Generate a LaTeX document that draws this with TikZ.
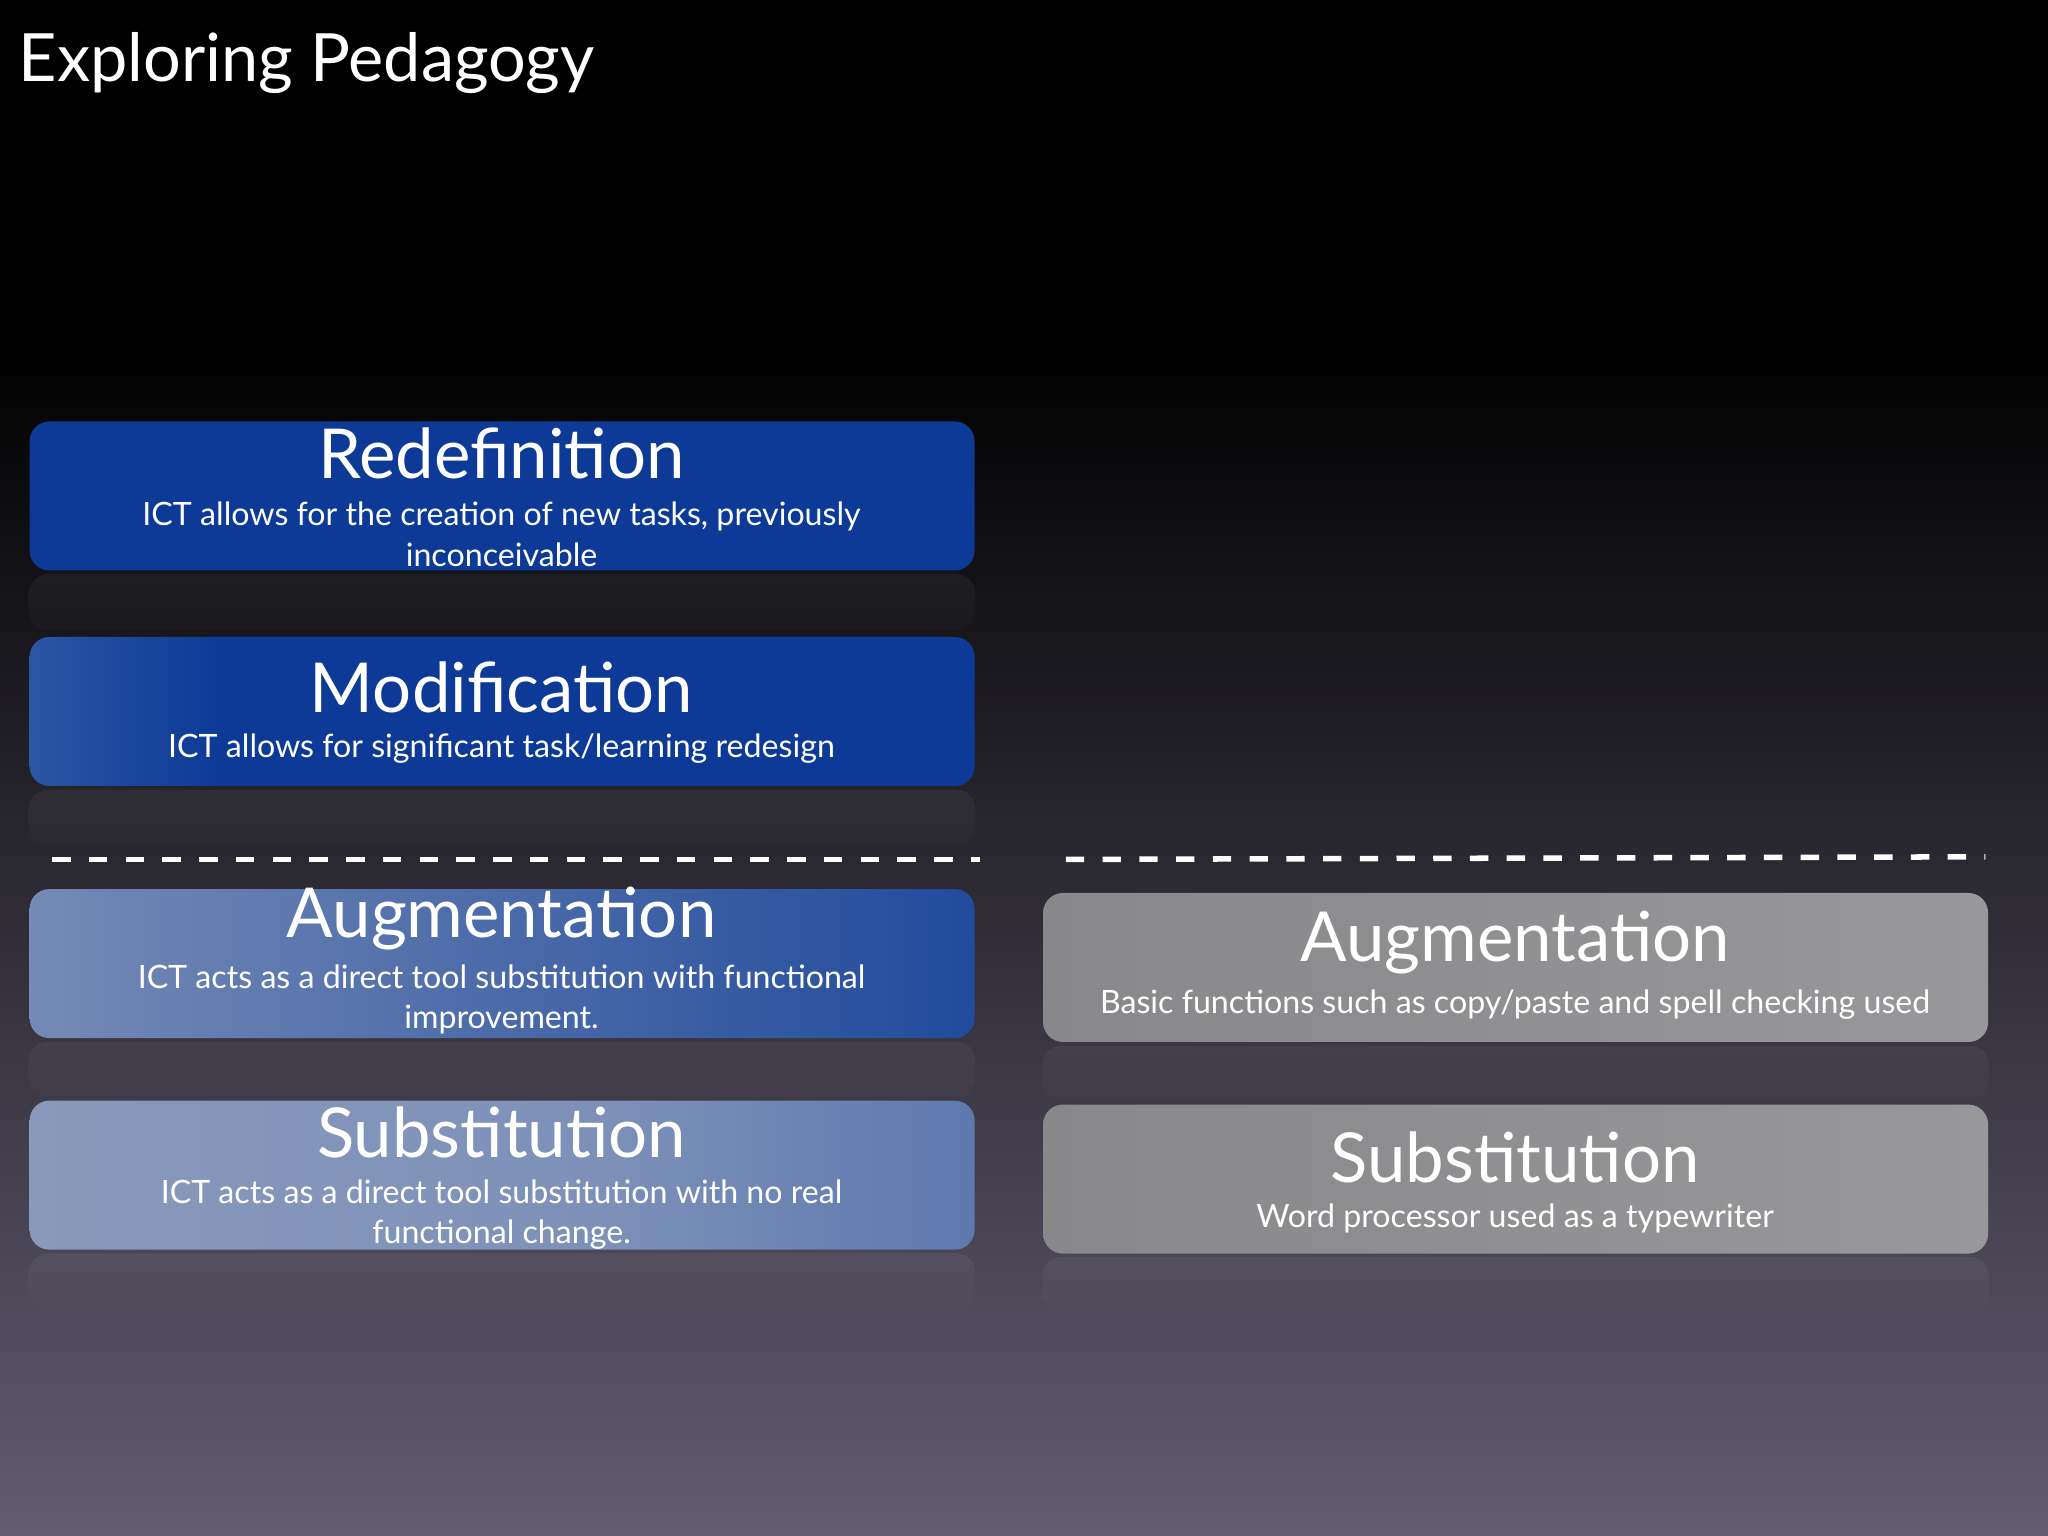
\documentclass[tikz,border=0pt]{standalone}
\usepackage{fontspec}
\setmainfont{Lato}
\definecolor{bgbot}{RGB}{98,92,112}
\definecolor{dblue}{RGB}{12,58,150}
\definecolor{lblue}{RGB}{145,160,190}
\definecolor{gA}{RGB}{128,128,130}
\definecolor{gB}{RGB}{160,160,162}
\pgfdeclarehorizontalshading{modsh}{100bp}{color(0bp)=(lblue); color(8bp)=(lblue!85!dblue); color(24bp)=(dblue!85!white); color(35bp)=(dblue); color(100bp)=(dblue)}
\pgfdeclarehorizontalshading{augsh}{100bp}{color(0bp)=(lblue); color(20bp)=(lblue!85!dblue); color(60bp)=(dblue!65!lblue); color(88bp)=(dblue); color(100bp)=(dblue)}
\pgfdeclarehorizontalshading{subsh}{100bp}{color(0bp)=(lblue); color(55bp)=(lblue!85!dblue); color(85bp)=(lblue!50!dblue); color(97bp)=(dblue); color(100bp)=(dblue)}
\pgfdeclarehorizontalshading{graysh}{100bp}{color(0bp)=(gA); color(100bp)=(gB)}
\tikzset{
 box/.style={rounded corners=0.15cm, minimum width=7.23cm, minimum height=1.14cm, anchor=north west, inner sep=0pt},
 ttl/.style={text=white, font=\fontsize{15}{17}\selectfont},
 sub/.style={text=white, font=\fontsize{7}{8.8}\selectfont, align=center},
 dashline/.style={white, line width=1.2pt, dash pattern=on 4pt off 4pt}
}
\begin{document}
\begin{tikzpicture}[x=0.01cm,y=-0.01cm]
\useasboundingbox (0,0) rectangle (1568,1176);
\fill[black] (0,0) rectangle (1568,260);
\shade[top color=black, bottom color=bgbot] (0,259) rectangle (1568,1176);
\node[anchor=west, text=white, font=\fontsize{14.5}{17}\selectfont] (title) at (2,48) {Exploring Pedagogy};
\node[box, fill=dblue] (r) at (22,322) {};
\node[box, shading=modsh] (m) at (22,487) {};
\node[box, shading=augsh] (a) at (22,680) {};
\node[box, shading=subsh] (s) at (22,842) {};
\node[box, shading=graysh] (a2) at (798,683) {};
\node[box, shading=graysh] (s2) at (798,845) {};
\foreach \n in {r,m,a,s,a2,s2}{
 \shade[top color=white, bottom color=bgbot, opacity=0.05, rounded corners=0.15cm] ([yshift=-0.02cm]\n.south west) rectangle ([yshift=-0.45cm]\n.south east);
}
\node[ttl] (rt) at (384,347) {Redefinition};
\node[sub] (rs) at (384,409) {ICT allows for the creation of new tasks, previously\\inconceivable};
\node[ttl] (mt) at (384,526) {Modification};
\node[sub] (ms) at (384,573) {ICT allows for significant task/learning redesign};
\node[ttl] (at) at (384,703) {Augmentation};
\node[sub] (as) at (384,765) {ICT acts as a direct tool substitution with functional\\improvement.};
\node[ttl] (st) at (384,867) {Substitution};
\node[sub] (ss) at (384,930) {ICT acts as a direct tool substitution with no real\\functional change.};
\node[ttl] (a2t) at (1160,722) {Augmentation};
\node[sub] (a2s) at (1160,769) {Basic functions such as copy/paste and spell checking used};
\node[ttl] (s2t) at (1160,886) {Substitution};
\node[sub] (s2s) at (1160,933) {Word processor used as a typewriter};
\coordinate (d1) at (40,658); \coordinate (d2) at (750,658);
\coordinate (d3) at (816,658); \coordinate (d4) at (1520,656);
\draw[dashline] (d1) -- (d2);
\draw[dashline] (d3) -- (d4);
\end{tikzpicture}
\end{document}
